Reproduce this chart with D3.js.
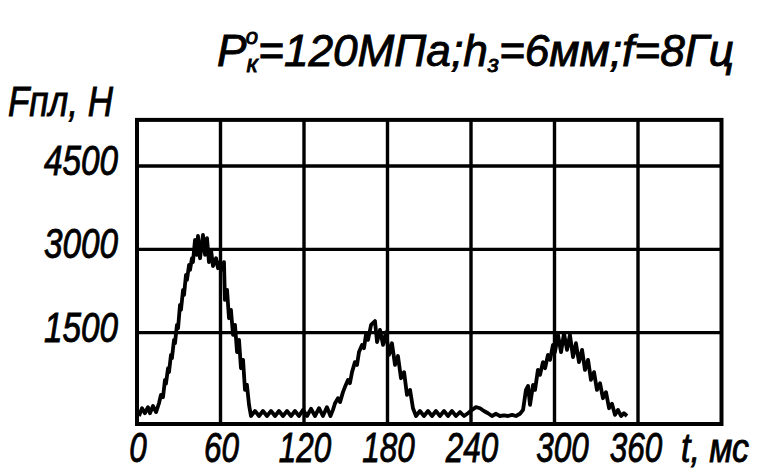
<!DOCTYPE html>
<html>
<head>
<meta charset="utf-8">
<script src="https://cdn.jsdelivr.net/npm/d3@7"></script>
<style>
    body { margin: 0; background: #fff; }
    text { font-family: "Liberation Sans", Arial, sans-serif; font-style: italic; fill: #000; stroke: #000; stroke-width: 0.9px; }
</style>
</head>
<body>
<div id="chart"></div>
<script>
var WIDTH = 762, HEIGHT = 470;

// Trace: time (ms) and force (N)
var timeMs = [1.4, 3.6, 5.7, 7.9, 9.3, 11.5, 13.7, 15.8, 17.2, 18.7, 20.1, 20.8, 22.3, 23.0, 24.4, 25.1,
    26.6, 27.3, 28.7, 29.5, 30.9, 31.6, 33.1, 33.8, 35.2, 35.9, 37.4, 38.1, 39.5, 40.2, 41.7, 43.1,
    43.8, 45.3, 47.4, 48.9, 50.3, 51.7, 53.2, 54.6, 56.8, 58.2, 59.6, 61.1, 62.5, 63.2, 64.7, 66.1,
    67.5, 69.0, 70.4, 71.9, 73.3, 74.7, 76.2, 77.6, 79.0, 80.5, 81.9, 84.8, 87.7, 90.5, 93.4, 96.3,
    99.2, 102.0, 104.9, 107.8, 110.7, 113.5, 116.4, 119.3, 122.2, 125.0, 127.9, 130.8, 133.6, 136.5, 139.0, 140.8,
    142.3, 144.4, 145.9, 148.0, 149.4, 151.6, 153.0, 154.5, 156.6, 158.1, 159.5, 161.7, 163.1, 164.5, 166.0, 168.2,
    171.0, 172.5, 174.6, 176.8, 178.9, 181.1, 183.2, 185.4, 187.5, 189.7, 191.9, 194.0, 196.2, 198.3, 200.5, 203.3,
    206.2, 209.1, 212.0, 214.8, 217.7, 220.6, 223.5, 226.3, 229.2, 232.1, 235.0, 237.8, 240.7, 243.6, 246.5, 249.3,
    252.2, 255.1, 258.0, 260.8, 263.7, 266.6, 269.5, 272.3, 275.2, 277.4, 279.5, 281.0, 282.4, 284.6, 286.0, 288.1,
    289.6, 291.7, 293.2, 295.3, 296.8, 298.9, 300.3, 302.5, 304.7, 306.8, 309.0, 311.1, 313.3, 315.4, 317.6, 319.8,
    321.9, 324.1, 326.2, 328.4, 330.5, 332.7, 334.8, 337.0, 339.2, 341.3, 343.5, 345.6, 347.8, 349.9, 352.1];
var forceN = [0, 140, 50, 160, 50, 180, 70, 230, 380, 340, 650, 580, 860, 790, 1100, 1040,
    1370, 1310, 1640, 1580, 2000, 1910, 2270, 2180, 2540, 2450, 2720, 2630, 2840, 2770, 3170, 2900,
    3240, 2840, 3260, 2900, 3200, 2770, 2990, 2700, 2840, 2660, 2770, 2630, 2770, 2090, 2270, 1760,
    1910, 1460, 1640, 1150, 1370, 860, 1010, 470, 560, 200, 0, 90, 0, 90, 0, 90,
    0, 90, 0, 90, 0, 90, 0, 110, 0, 130, 0, 140, 0, 160, 0, 110,
    230, 320, 250, 430, 520, 650, 590, 790, 970, 920, 1150, 1280, 1220, 1460, 1370, 1640,
    1710, 1330, 1550, 1280, 1510, 1100, 1310, 920, 1080, 680, 790, 380, 470, 140, 0, 90,
    0, 90, 0, 90, 0, 90, 0, 90, 0, 70, 0, 50, 110, 160, 140, 90,
    50, 0, 40, 0, 10, 0, 20, 0, 40, 110, 470, 540, 200, 560, 470, 830,
    740, 970, 860, 1100, 1010, 1280, 1150, 1460, 1150, 1490, 1190, 1460, 1060, 1310, 970, 1190,
    830, 1010, 650, 790, 470, 590, 320, 430, 140, 220, 20, 110, 0, 50, 0];

var xTicks = [0, 60, 120, 180, 240, 300, 360];
var yTicks = [1500, 3000, 4500];
var xLimits = [0, 420];
var yLimits = [-144, 5330];

var points = timeMs.map(function(t, i) { return {t: t, f: forceN[i]}; });

var svg = d3.select('#chart')
        .append('svg')
        .attr('width', WIDTH)
        .attr('height', HEIGHT);

var x = d3.scaleLinear().domain([0, 360]).range([137, 638]);
var y = d3.scaleLinear().domain([0, 4500]).range([416, 166]);

// Grid
var grid = svg.append('g').attr('stroke', '#000').attr('stroke-width', 3.4);

grid.selectAll('line.v').data(xTicks.slice(1))
    .enter().append('line').classed('v', true)
        .attr('x1', function(d) { return x(d); })
        .attr('x2', function(d) { return x(d); })
        .attr('y1', y(yLimits[1]))
        .attr('y2', y(yLimits[0]));

grid.selectAll('line.h').data(yTicks)
    .enter().append('line').classed('h', true)
        .attr('x1', x(xLimits[0]))
        .attr('x2', x(xLimits[1]))
        .attr('y1', function(d) { return y(d); })
        .attr('y2', function(d) { return y(d); });

svg.append('rect')
    .attr('x', x(xLimits[0]))
    .attr('y', y(yLimits[1]))
    .attr('width', x(xLimits[1]) - x(xLimits[0]))
    .attr('height', y(yLimits[0]) - y(yLimits[1]))
    .attr('fill', 'none')
    .attr('stroke', '#000')
    .attr('stroke-width', 4);

// Force trace
var line = d3.line()
    .x(function(d) { return x(d.t); })
    .y(function(d) { return y(d.f); });

svg.append('path')
    .datum(points)
    .attr('d', line)
    .attr('fill', 'none')
    .attr('stroke', '#000')
    .attr('stroke-width', 3.8)
    .attr('stroke-linejoin', 'round');

// Tick labels
svg.selectAll('text.ylab').data(yTicks)
    .enter().append('text').classed('ylab', true)
        .attr('x', 118)
        .attr('y', function(d) { return y(d) + 9; })
        .attr('text-anchor', 'end')
        .attr('font-size', 42)
        .attr('textLength', 74)
        .attr('lengthAdjust', 'spacingAndGlyphs')
        .text(function(d) { return d; });

svg.selectAll('text.xlab').data(xTicks)
    .enter().append('text').classed('xlab', true)
        .attr('x', function(d) { return x(d) + (d === 300 ? 8 : (d === 360 ? -2 : 1)); })
        .attr('y', 462)
        .attr('text-anchor', 'middle')
        .attr('font-size', 43)
        .attr('textLength', function(d) { return String(d).length * 17.5; })
        .attr('lengthAdjust', 'spacingAndGlyphs')
        .text(function(d) { return d; });

svg.append('text')
    .attr('x', 681)
    .attr('y', 462)
    .attr('font-size', 40)
    .attr('textLength', 68)
    .attr('lengthAdjust', 'spacingAndGlyphs')
    .text('t, мс');

svg.append('text')
    .attr('x', 8)
    .attr('y', 116)
    .attr('font-size', 42)
    .attr('textLength', 105)
    .attr('lengthAdjust', 'spacingAndGlyphs')
    .text('Fпл, H');

// Title
var title = svg.append('text')
    .attr('x', 217)
    .attr('y', 66)
    .attr('font-size', 44)
    .attr('textLength', 517)
    .attr('lengthAdjust', 'spacingAndGlyphs');
title.append('tspan').text('P');
title.append('tspan').attr('font-size', 24).attr('dy', 6).text('к');
title.append('tspan').attr('font-size', 22).attr('dx', -12).attr('dy', -28).text('o');
title.append('tspan').attr('dy', 22).text('=120МПа;h');
title.append('tspan').attr('font-size', 24).attr('dy', 6).text('з');
title.append('tspan').attr('dy', -6).text('=6мм;f=8Гц');
</script>
</body>
</html>
